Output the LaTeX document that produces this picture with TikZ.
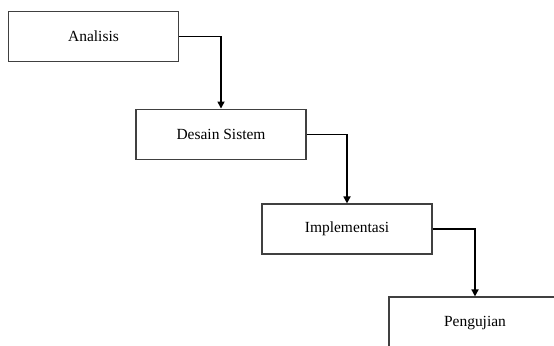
\documentclass[tikz,border=0pt]{standalone}
\usepackage{fontspec}
\setmainfont{Liberation Serif}
\usetikzlibrary{arrows.meta,positioning}
\tikzset{
  stagebox/.style={draw=black!75,line width=0.8pt,rectangle,minimum width=4.25cm,minimum height=1.27cm,font=\fontsize{11}{13}\selectfont},
  flow/.style={line width=1.1pt,-{Triangle[length=5pt,width=5pt]}}
}
\begin{document}
\begin{tikzpicture}[x=0.025cm,y=-0.025cm]
  \useasboundingbox (0,0) rectangle (554,345);
  \clip (0,0) rectangle (554,345);
  \node[stagebox] (ana) at (93.5,36.5) {Analisis};
  \node[stagebox] (des) at (221,134.5) {Desain Sistem};
  \node[stagebox,minimum height=1.25cm] (imp) at (347,229) {Implementasi};
  \node[stagebox,minimum width=4.3cm,minimum height=1.3cm] (uji) at (475,323) {Pengujian};
  \draw[flow] (ana.east) -| (des.north);
  \draw[flow] (des.east) -| (imp.north);
  \draw[flow] (imp.east) -| (uji.north);
\end{tikzpicture}
\end{document}
